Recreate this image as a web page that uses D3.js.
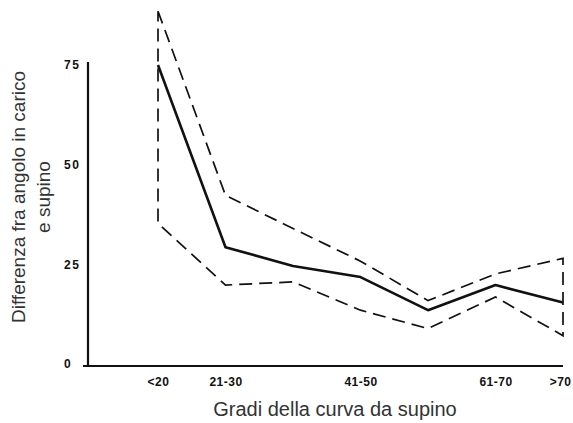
<!DOCTYPE html>
<html>
<head>
<meta charset="utf-8">
<script src="https://cdn.jsdelivr.net/npm/d3@7"></script>
<style>
  body { margin: 0; background: #fff; }
  .tick text { font-family: "Liberation Sans", Arial, sans-serif; font-weight: bold; font-size: 12px; fill: #111; }
  .title { font-family: "Liberation Sans", Arial, sans-serif; fill: #333; }
</style>
</head>
<body>
<div id="chart"></div>
<script>
// categories along the x axis (gradi della curva da supino)
var categories = ["<20", "21-30", "31-40", "41-50", "51-60", "61-70", ">70"];
var shownLabels = ["<20", "21-30", "41-50", "61-70", ">70"];

// mean difference (solid line) and the upper / lower dashed bounds
var meanValues  = [75, 29.3, 24.6, 21.8, 13.5, 19.8, 15.4];
var upperValues = [88.5, 42.3, 34, 25.8, 15.9, 22.6, 26.5];
var lowerValues = [35.3, 19.8, 20.6, 13.5, 8.9, 16.8, 7.1];

var yTicks = [0, 25, 50, 75];

var width = 573, height = 423;

var svg = d3.select("#chart").append("svg")
    .attr("width", width)
    .attr("height", height);

// scales
var x = d3.scalePoint()
    .domain(categories)
    .range([158, 563]);

var y = d3.scaleLinear()
    .domain([0, 75])
    .range([364, 65]);

// y axis
var yAxis = svg.append("g")
    .attr("transform", "translate(88,0)")
    .call(d3.axisLeft(y).tickValues(yTicks).tickSize(0).tickPadding(8));
yAxis.select(".domain").attr("stroke", "#111").attr("stroke-width", 2.2)
    .attr("d", "M0," + (y(75) - 3) + "V" + (y(0) + 2));
yAxis.selectAll(".tick text")
    .attr("text-anchor", "start")
    .attr("x", -24)
    .attr("letter-spacing", "1.5px");

// x axis line
svg.append("line")
    .attr("x1", 83).attr("x2", 563)
    .attr("y1", y(0) + 2).attr("y2", y(0) + 2)
    .attr("stroke", "#111")
    .attr("stroke-width", 2.2);

var xAxis = svg.append("g")
    .attr("transform", "translate(0," + (y(0) + 2) + ")")
    .call(d3.axisBottom(x).tickValues(shownLabels).tickSize(0).tickPadding(11));
xAxis.select(".domain").remove();
xAxis.selectAll(".tick text").attr("letter-spacing", "0.5px");
// last label sits against the right edge
xAxis.selectAll(".tick text")
    .filter(function (d) { return d === ">70"; })
    .attr("text-anchor", "end")
    .attr("x", 8);

// dashed envelope: upper line, down the right side, lower line back, up the left side
var envelope = upperValues.map(function (d, i) { return [x(categories[i]), y(d)]; })
    .concat(lowerValues.map(function (d, i) { return [x(categories[i]), y(d)]; }).reverse());

svg.append("path")
    .attr("d", d3.line()(envelope) + "Z")
    .attr("fill", "none")
    .attr("stroke", "#111")
    .attr("stroke-width", 1.7)
    .attr("stroke-dasharray", "13,7");

// mean line
var line = d3.line()
    .x(function (d, i) { return x(categories[i]); })
    .y(function (d) { return y(d); });

svg.append("path")
    .datum(meanValues)
    .attr("d", line)
    .attr("fill", "none")
    .attr("stroke", "#111")
    .attr("stroke-width", 2.6)
    .attr("stroke-linejoin", "round");

// axis titles
svg.append("text")
    .attr("class", "title")
    .attr("x", 335).attr("y", 416)
    .attr("text-anchor", "middle")
    .style("font-size", "20px")
    .text("Gradi della curva da supino");

var yTitle = svg.append("text")
    .attr("class", "title")
    .attr("transform", "translate(25,197) rotate(-90)")
    .attr("text-anchor", "middle")
    .style("font-size", "19px");
yTitle.append("tspan").attr("x", 0).attr("dy", 0).text("Differenza fra angolo in carico");
yTitle.append("tspan").attr("x", 0).attr("dy", 25).text("e supino");
</script>
</body>
</html>
